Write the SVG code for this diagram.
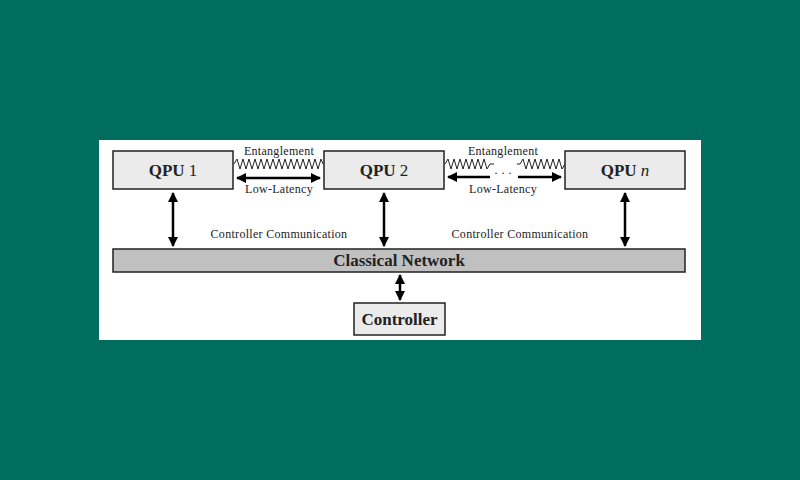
<svg xmlns="http://www.w3.org/2000/svg" width="800" height="480" viewBox="0 0 800 480">
<defs>
<marker id="ah" viewBox="0 0 10 10" refX="9" refY="5" markerWidth="4" markerHeight="4" orient="auto-start-reverse"><path d="M0,0 L10,5 L0,10 z" fill="#000"/></marker>
<style>
.box{fill:#ebebeb;stroke:#222;stroke-width:1.5}
.t{font-family:"Liberation Serif","DejaVu Serif",serif;fill:#222}
.b{font-size:17px;font-weight:bold;text-anchor:middle}
.s{font-size:12px;letter-spacing:0.3px;text-anchor:middle}
.ar{stroke:#000;stroke-width:2.5;fill:none;marker-start:url(#ah);marker-end:url(#ah)}
.w{stroke:#222;stroke-width:1;fill:none}
</style>
</defs>
<rect width="800" height="480" fill="#016d5e"/>
<rect x="99" y="140" width="602" height="200" fill="#fff"/>
<g id="qpu1"><rect class="box" x="113" y="151" width="120" height="38"/><text class="t b" x="173" y="176">QPU <tspan font-weight="normal">1</tspan></text></g>
<g id="qpu2"><rect class="box" x="324" y="151" width="120" height="38"/><text class="t b" x="384" y="176">QPU <tspan font-weight="normal">2</tspan></text></g>
<g id="qpun"><rect class="box" x="565" y="151" width="120" height="38"/><text class="t b" x="625" y="176">QPU <tspan font-style="italic" font-weight="normal">n</tspan></text></g>
<g id="network"><rect x="113" y="249" width="572" height="23" fill="#c0c0c0" stroke="#222" stroke-width="1.5"/><text class="t b" x="399" y="266">Classical Network</text></g>
<g id="controller"><rect class="box" x="354" y="303" width="91" height="32"/><text class="t b" x="399.5" y="325">Controller</text></g>
<g id="connectors">
<path class="w" d="M234,164 l3,-5 l3,10 l3,-10 l3,10 l3,-10 l3,10 l3,-10 l3,10 l3,-10 l3,10 l3,-10 l3,10 l3,-10 l3,10 l3,-10 l3,10 l3,-10 l3,10 l3,-10 l3,10 l3,-10 l3,10 l3,-10 l3,10 l3,-10 l3,10 l3,-10 l3,10 l3,-10 l2,5"/>
<line class="ar" x1="237" y1="178" x2="320" y2="178"/>
<path class="w" d="M445,164 l3,-5 l3,10 l3,-10 l3,10 l3,-10 l3,10 l3,-10 l3,10 l3,-10 l3,10 l3,-10 l3,10 l3,-10 l3,10 l3,-5 h4"/>
<path class="w" d="M517,164 h3 l3,-5 l3,10 l3,-10 l3,10 l3,-10 l3,10 l3,-10 l3,10 l3,-10 l3,10 l3,-10 l3,10 l3,-10 l3,10 l3,-5"/>
<text class="t" x="503" y="177" font-size="12" text-anchor="middle">· · ·</text>
<line class="ar" x1="448" y1="177" x2="490" y2="177" style="marker-end:none"/>
<line class="ar" x1="518" y1="177" x2="561" y2="177" style="marker-start:none"/>
<line class="ar" x1="173" y1="193" x2="173" y2="246"/>
<line class="ar" x1="384" y1="193" x2="384" y2="246"/>
<line class="ar" x1="625" y1="193" x2="625" y2="246"/>
<line class="ar" x1="400" y1="275" x2="400" y2="300"/>
<text class="t s" x="279" y="155">Entanglement</text>
<text class="t s" x="279" y="193">Low-Latency</text>
<text class="t s" x="503" y="155">Entanglement</text>
<text class="t s" x="503" y="193">Low-Latency</text>
<text class="t s" x="279" y="238">Controller Communication</text>
<text class="t s" x="520" y="238">Controller Communication</text>
</g>
</svg>
